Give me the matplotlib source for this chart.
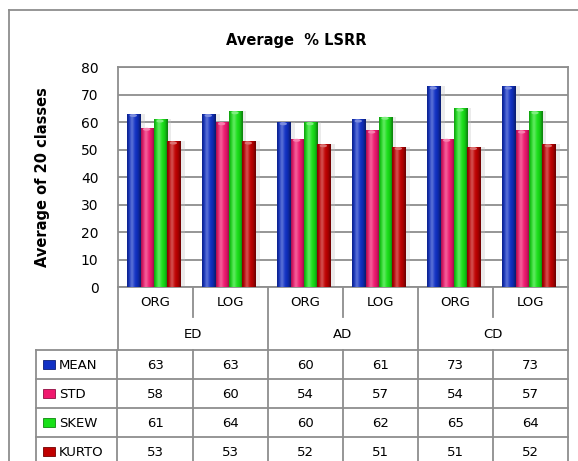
import numpy as np
import matplotlib
matplotlib.use("Agg")
import matplotlib.pyplot as plt
from matplotlib.patches import Rectangle, Ellipse
from matplotlib.lines import Line2D
from matplotlib.colors import to_rgb

plt.rcParams["font.family"] = ["DejaVu Sans"]

# ---- data ----
groups = ["ED", "AD", "CD"]
transforms = ["ORG", "LOG"]
series_names = ["MEAN", "STD", "SKEW", "KURTO"]
mean_vals = [63, 63, 60, 61, 73, 73]
std_vals = [58, 60, 54, 57, 54, 57]
skew_vals = [61, 64, 60, 62, 65, 64]
kurto_vals = [53, 53, 52, 51, 51, 52]
series_values = [mean_vals, std_vals, skew_vals, kurto_vals]
series_colors = ["#1030c4", "#f0186e", "#18e018", "#c00000"]
y_ticks = list(range(0, 81, 10))

# ---- layout (pixels) ----
W, H = 578, 461
DPI = 100
ax_left, ax_right, ax_top, ax_bottom = 118, 568, 67, 287
legend_left = 36
grid_col = "#8e8e8e"

fig = plt.figure(figsize=(W / DPI, H / DPI), dpi=DPI)
fig.patch.set_facecolor("white")

ax = fig.add_axes([ax_left / W, 1 - ax_bottom / H,
                   (ax_right - ax_left) / W, (ax_bottom - ax_top) / H])

n_cat = len(mean_vals)
x = np.arange(n_cat)
bar_w = 0.178
ax.set_xlim(-0.5, n_cat - 0.5)
ax.set_ylim(0, 80)


def shade(color, t):
    """Cylinder-like horizontal shading profile for a bar."""
    base = np.array(to_rgb(color))
    dark = base * 0.6
    light = base + (1 - base) * 0.3
    prof = np.exp(-((t - 0.35) ** 2) / 0.03)
    edge = np.clip(np.abs(t - 0.45) * 2, 0, 1) ** 3
    c = base[None, :] * (1 - prof[:, None]) + light[None, :] * prof[:, None]
    c = c * (1 - edge[:, None]) + dark[None, :] * edge[:, None]
    return np.clip(c, 0, 1)


px_per_unit_y = (ax_bottom - ax_top) / 80
px_per_unit_x = (ax_right - ax_left) / n_cat

for k, (vals, col) in enumerate(zip(series_values, series_colors)):
    offs = (k - 1.5) * bar_w - 0.02
    # soft drop shadow
    ax.bar(x + offs + 4 / px_per_unit_x, vals, width=bar_w, color="#c0c0c0",
           alpha=0.3, zorder=2, linewidth=0)
    bars = ax.bar(x + offs, vals, width=bar_w, color=col, zorder=3, linewidth=0)
    t = np.linspace(0, 1, 32)
    grad = shade(col, t)[None, :, :]
    for b in bars:
        bx, bw, bh = b.get_x(), b.get_width(), b.get_height()
        im = ax.imshow(grad, extent=[bx, bx + bw, 0, bh], aspect="auto",
                       origin="lower", zorder=4, interpolation="bilinear")
        im.set_clip_path(b)
        cap_h = 3.0 / px_per_unit_y
        base = np.array(to_rgb(col))
        ax.add_patch(Ellipse((bx + bw * 0.45, bh - cap_h * 0.6), bw * 0.55, cap_h,
                             facecolor=base + (1 - base) * 0.45, edgecolor="none",
                             zorder=5))

ax.set_xlim(-0.5, n_cat - 0.5)
ax.set_ylim(0, 80)
ax.set_yticks(y_ticks)
ax.set_yticklabels([str(v) for v in y_ticks], fontsize=10)
ax.set_xticks([])
ax.tick_params(axis="y", length=0, pad=14)
ax.yaxis.grid(True, color=grid_col, linewidth=1.3, zorder=0)
ax.set_axisbelow(True)
for s in ax.spines.values():
    s.set_color(grid_col)
    s.set_linewidth(1.3)
ax.set_ylabel("Average of 20 classes", fontsize=10.5, fontweight="bold")
ax.yaxis.set_label_coords((50 - ax_left) / (ax_right - ax_left), 0.5)

# ---- overlay in pixel coordinates for frame and data table ----
ov = fig.add_axes([0, 0, 1, 1], zorder=-1)
ov.set_xlim(0, W)
ov.set_ylim(H, 0)
ov.axis("off")


def hline(y, x0, x1):
    ov.add_line(Line2D([x0, x1], [y, y], color=grid_col, linewidth=1.3))


def vline(xp, y0, y1):
    ov.add_line(Line2D([xp, xp], [y0, y1], color=grid_col, linewidth=1.3))


# outer chart frame
hline(10, 9, W)
vline(9, 10, H)

fig.text(296 / W, 1 - 40 / H, "Average  % LSRR", ha="center", va="center",
         fontsize=10.5, fontweight="bold")

cw = (ax_right - ax_left) / n_cat
cat_edges = [ax_left + i * cw for i in range(n_cat + 1)]
sub_y = 317
head_bottom = 350
row_h = 29

# category header rows
vline(ax_left, ax_bottom, head_bottom)
vline(ax_right, ax_bottom, head_bottom)
for i in range(1, n_cat):
    if i % 2 == 0:
        vline(cat_edges[i], ax_bottom, head_bottom)
    else:
        vline(cat_edges[i], ax_bottom, sub_y)
for i in range(n_cat):
    ov.text((cat_edges[i] + cat_edges[i + 1]) / 2, 302, transforms[i % 2],
            ha="center", va="center", fontsize=9.5)
for g, name in enumerate(groups):
    ov.text((cat_edges[2 * g] + cat_edges[2 * g + 2]) / 2, 334, name,
            ha="center", va="center", fontsize=9.5)

# value rows
n_rows = len(series_names)
for r in range(n_rows + 1):
    hline(head_bottom + r * row_h, legend_left, ax_right)
table_bottom = head_bottom + n_rows * row_h + 2
vline(legend_left, head_bottom, table_bottom)
for e in cat_edges:
    vline(e if e != ax_left else ax_left - 1, head_bottom, table_bottom)

for r, (name, vals, col) in enumerate(zip(series_names, series_values, series_colors)):
    yc = head_bottom + r * row_h + row_h / 2
    ov.add_patch(Rectangle((43, yc - 5), 12, 9, facecolor=col,
                           edgecolor=np.array(to_rgb(col)) * 0.6, linewidth=0.6))
    ov.text(59, yc + 0.5, name, ha="left", va="center", fontsize=9.5)
    for i, v in enumerate(vals):
        ov.text((cat_edges[i] + cat_edges[i + 1]) / 2, yc + 1, str(v),
                ha="center", va="center", fontsize=9.5)

fig.savefig("out.png", dpi=DPI)
